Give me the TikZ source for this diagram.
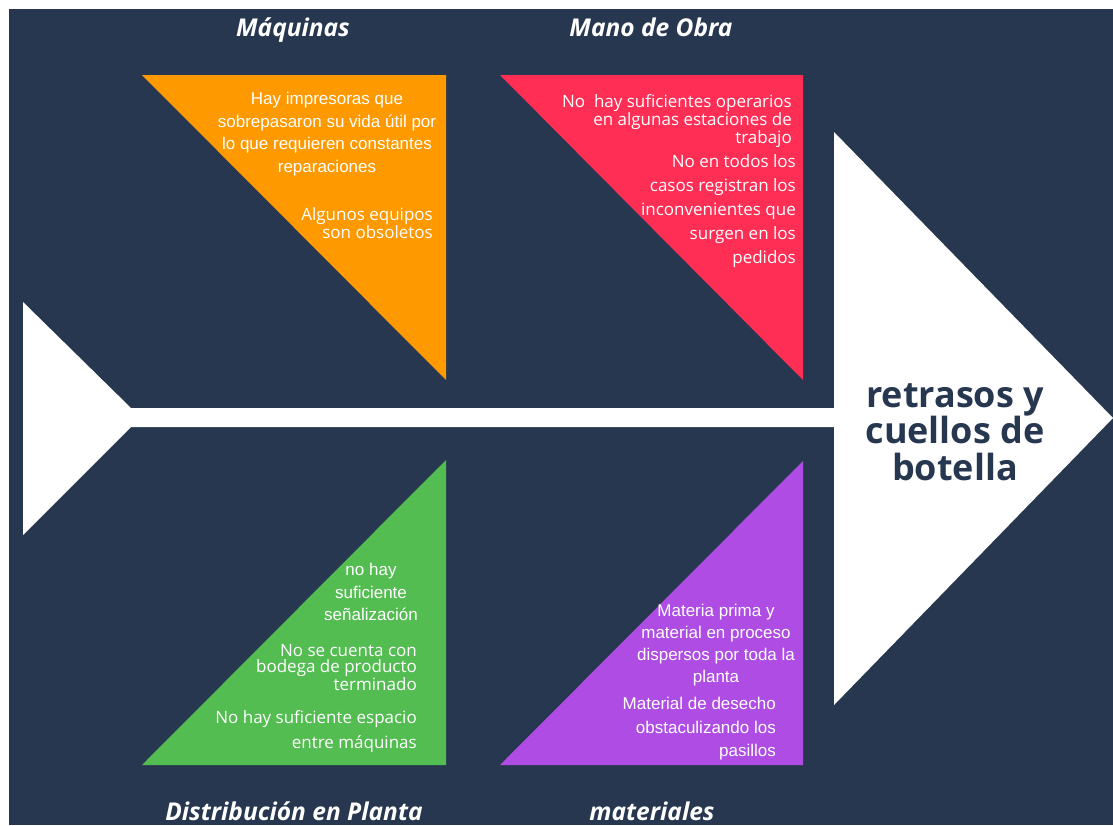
\documentclass[tikz,border=0pt]{standalone}
\usepackage{fontspec}
\setmainfont{Open Sans}
\newfontfamily\arialfont{Liberation Sans}
\definecolor{bgcol}{HTML}{26374F}
\definecolor{maqcol}{HTML}{FF9900}
\definecolor{obracol}{HTML}{FF2E55}
\definecolor{distcol}{HTML}{54BD52}
\definecolor{matcol}{HTML}{AE4CE4}
\tikzset{
  cause/.style={text=white,inner sep=0pt,font=\fontsize{17}{#1}\selectfont},
  causearial/.style={text=white,inner sep=0pt,font=\arialfont\fontsize{17}{#1}\selectfont},
  category/.style={text=white,inner sep=0pt,anchor=base,font=\fontsize{24.5}{28}\selectfont\bfseries\itshape},
}

\begin{document}
\begin{tikzpicture}[x=1pt,y=-1pt]
  \useasboundingbox (0,0) rectangle (1113,825);
  \fill[white] (0,0) rectangle (1113,825);
  \fill[bgcol] (9,9) rectangle (1113,825);
  % spine with tail and head
  \fill[white] (23,302) -- (131,408) -- (834,408) -- (834,132) -- (1113,418)
    -- (834,705) -- (834,427) -- (131,427) -- (23,535) -- cycle;
  % bones
  \fill[maqcol] (142,75) -- (446,75) -- (446,380) -- cycle;
  \fill[obracol] (500,75) -- (803,75) -- (803,380) -- cycle;
  \fill[distcol] (142,765) -- (446,765) -- (446,460) -- cycle;
  \fill[matcol] (500,765) -- (803,765) -- (803,461) -- cycle;
  % categories
  \node[category] (maq) at (293,36) {Máquinas};
  \node[category] (obra) at (651,36) {Mano de Obra};
  \node[category] (dist) at (294,820) {Distribución en Planta};
  \node[category] (mat) at (652,820) {materiales};
  % effect
  \node[text=bgcol,inner sep=0pt,anchor=north,align=center,
    font=\fontsize{36}{36.5}\selectfont\bfseries] (efecto) at (955,383)
    {retrasos y\\cuellos de\\botella};
  % causes
  \node[causearial=22.5,align=center,anchor=north] (maq1) at (327,92)
    {Hay impresoras que\\sobrepasaron su vida útil por\\lo que requieren constantes\\reparaciones};
  \node[cause=16,align=right,anchor=north east] (maq2) at (433,207)
    {Algunos equipos\\son obsoletos};
  \node[cause=16.5,align=right,anchor=north east] (obra1) at (792,94)
    {No\ \ hay suficientes operarios\\en algunas estaciones de\\trabajo};
  \node[cause=24,align=right,anchor=north east] (obra2) at (796,154)
    {No en todos los\\casos registran los\\inconvenientes que\\surgen en los\\pedidos};
  \node[causearial=22.5,align=center,anchor=north] (dist1) at (371,563)
    {no hay\\suficiente\\señalización};
  \node[cause=16.5,align=right,anchor=north east] (dist2) at (417,644)
    {No se cuenta con\\bodega de producto\\terminado};
  \node[cause=25,align=right,anchor=north east] (dist3) at (417,710)
    {No hay suficiente espacio\\entre máquinas};
  \node[causearial=22,align=center,anchor=north] (mat1) at (716,604)
    {Materia prima y\\material en proceso\\dispersos por toda la\\planta};
  \node[causearial=23.5,align=right,anchor=north east] (mat2) at (776,697)
    {Material de desecho\\obstaculizando los\\pasillos};
\end{tikzpicture}
\end{document}
